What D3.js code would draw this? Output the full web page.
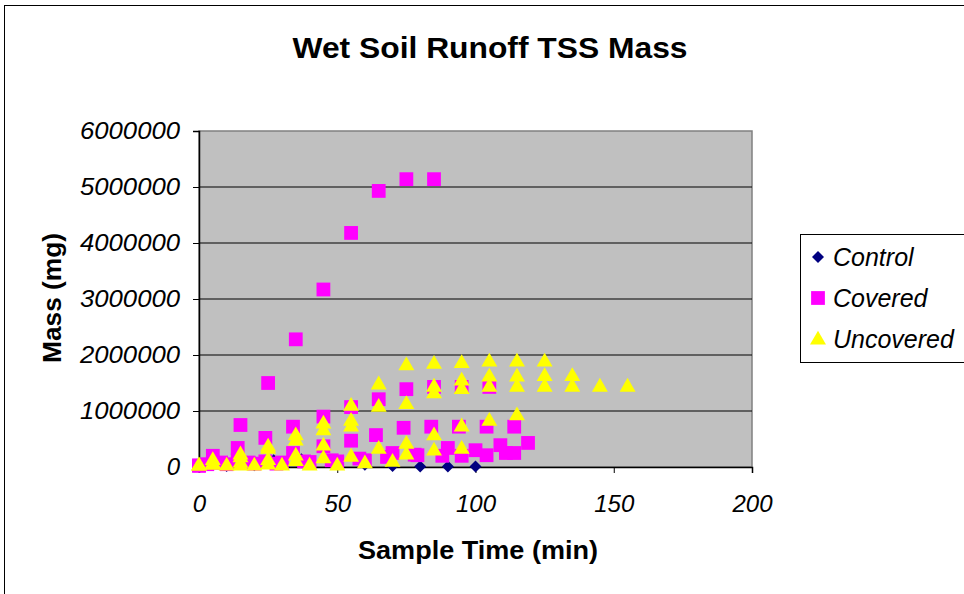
<!DOCTYPE html>
<html>
<head>
<meta charset="utf-8">
<script src="https://cdn.jsdelivr.net/npm/d3@7"></script>
<style>
  body { margin: 0; background: #fff; }
  svg { font-family: "Liberation Sans", Arial, sans-serif; }
</style>
</head>
<body>
<svg id="chart" width="964" height="594"></svg>
<script>
// x ticks / y ticks
const xTicks = [0, 50, 100, 150, 200];
const yTicks = [0, 1000000, 2000000, 3000000, 4000000, 5000000, 6000000];
const seriesNames = ["Control", "Covered", "Uncovered"];

// [time (min), mass (mg)] - several runs per treatment
const controlData = [
    [0, 0], [10, 20000], [20, 30000], [27, 120000], [37, 140000], [50, 50000],
    [60, 40000], [70, 20000], [80, 10000], [90, 10000], [100, 10000]
];
const coveredData = [
    // run 1
    [0, 20000], [5, 200000], [15, 750000], [25, 1500000], [35, 2280000], [45, 3170000],
    [55, 4180000], [65, 4930000], [75, 5140000], [85, 5140000],
    // run 2
    [5, 80000], [14, 340000], [24, 520000], [34, 720000], [45, 900000], [55, 1070000],
    [65, 1210000], [75, 1390000], [85, 1430000], [95, 1430000], [105, 1430000],
    // run 3
    [3, 50000], [14, 120000], [24, 100000], [34, 250000], [45, 370000], [55, 470000],
    [64, 570000], [74, 700000], [84, 720000], [94, 720000], [104, 720000], [114, 720000],
    // run 4
    [0, 30000], [10, 50000], [20, 60000], [30, 80000], [40, 90000], [50, 100000],
    [60, 120000], [70, 250000], [79, 210000], [90, 340000], [100, 300000], [109, 390000], [119, 430000],
    // run 5
    [8, 80000], [18, 80000], [28, 60000], [38, 100000], [48, 120000], [58, 150000],
    [68, 180000], [78, 220000], [88, 200000], [95, 200000], [104, 210000], [111, 250000], [114, 250000]
];
const uncoveredData = [
    // run 1
    [0, 0], [5, 100000], [15, 200000], [25, 340000], [35, 540000], [45, 750000], [55, 1070000],
    [65, 1450000], [75, 1790000], [85, 1820000], [95, 1830000], [105, 1860000], [115, 1860000], [125, 1860000],
    // run 2
    [5, 40000], [15, 150000], [25, 300000], [35, 450000], [45, 630000], [55, 800000], [65, 1050000],
    [75, 1100000], [85, 1410000], [95, 1520000], [105, 1590000], [115, 1590000], [125, 1600000], [135, 1600000],
    // run 3
    [5, 20000], [15, 50000], [25, 100000], [35, 180000], [45, 360000], [55, 700000],
    [85, 1290000], [95, 1370000], [105, 1410000], [115, 1410000], [125, 1410000], [135, 1410000],
    [145, 1410000], [155, 1410000],
    // run 4
    [0, 0], [10, 0], [20, 0], [30, 0], [40, 0], [50, 0], [60, 40000], [70, 70000],
    [75, 390000], [85, 540000], [95, 700000], [105, 800000], [115, 900000],
    // run 5
    [5, 20000], [15, 0], [25, 20000], [35, 80000], [45, 130000], [55, 160000],
    [65, 300000], [75, 200000], [85, 270000], [95, 300000]
];

const svg = d3.select("#chart");
const plot = {left: 199, top: 131, right: 752, bottom: 467};

// outer chart border
svg.append("rect")
    .attr("x", 4.5).attr("y", 5.5)
    .attr("width", 1000).attr("height", 1000)
    .attr("fill", "#fff")
    .attr("stroke", "#000")
    .attr("stroke-width", 1);

const x = d3.scaleLinear().domain([0, 200]).range([plot.left, plot.right]);
const y = d3.scaleLinear().domain([0, 6000000]).range([plot.bottom, plot.top]);

// plot area
svg.append("rect")
    .attr("x", plot.left).attr("y", plot.top)
    .attr("width", plot.right - plot.left).attr("height", plot.bottom - plot.top)
    .attr("fill", "#c0c0c0")
    .attr("stroke", "#808080")
    .attr("stroke-width", 1.5);

// gridlines
svg.append("g")
    .selectAll("line")
    .data(yTicks.filter(d => d > 0 && d < 6000000))
    .join("line")
    .attr("x1", plot.left).attr("x2", plot.right)
    .attr("y1", d => y(d)).attr("y2", d => y(d))
    .attr("stroke", "#000")
    .attr("stroke-width", 1);

// axes
const yAxis = svg.append("g")
    .attr("transform", `translate(${plot.left},0)`)
    .call(d3.axisLeft(y).tickValues(yTicks).tickSize(6).tickPadding(13).tickFormat(d3.format("d")));
const xAxis = svg.append("g")
    .attr("transform", `translate(0,${plot.bottom})`)
    .call(d3.axisBottom(x).tickValues(xTicks).tickSize(6).tickPadding(22).tickFormat(d3.format("d")));

[yAxis, xAxis].forEach(a => {
    a.select(".domain").attr("stroke", "#000").attr("stroke-width", 1.5);
    a.selectAll(".tick line").attr("stroke", "#000");
    a.selectAll("text")
        .attr("fill", "#000")
        .style("font-size", "24px")
        .style("font-style", "italic")
        .style("font-family", "'Liberation Sans', Arial, sans-serif");
});
yAxis.selectAll("text").attr("textLength", d => d === 0 ? null : 100).attr("lengthAdjust", "spacingAndGlyphs");

// markers
const symSquare = d3.symbol().type(d3.symbolSquare).size(190);
const symTri = d3.symbol().type(d3.symbolTriangle).size(110);
const symDiamond = d3.symbol().type(d3.symbolSquare).size(72);

const marks = svg.append("g");
marks.selectAll(".ctl")
    .data(controlData)
    .join("path")
    .attr("class", "ctl")
    .attr("d", symDiamond)
    .attr("transform", d => `translate(${x(d[0])},${y(d[1])}) rotate(45)`)
    .attr("fill", "#000080");
marks.selectAll(".cov")
    .data(coveredData)
    .join("path")
    .attr("class", "cov")
    .attr("d", symSquare)
    .attr("transform", d => `translate(${x(d[0])},${y(d[1])})`)
    .attr("fill", "#ff00ff");
marks.selectAll(".unc")
    .data(uncoveredData)
    .join("path")
    .attr("class", "unc")
    .attr("d", symTri)
    .attr("transform", d => `translate(${x(d[0])},${y(d[1]) - 1})`)
    .attr("fill", "#ffff00");

// titles
svg.append("text")
    .attr("x", 490).attr("y", 58)
    .attr("text-anchor", "middle")
    .attr("textLength", 395).attr("lengthAdjust", "spacingAndGlyphs")
    .style("font-size", "30px").style("font-weight", "bold")
    .text("Wet Soil Runoff TSS Mass");
svg.append("text")
    .attr("transform", "translate(61,298) rotate(-90)")
    .attr("text-anchor", "middle")
    .attr("textLength", 130).attr("lengthAdjust", "spacingAndGlyphs")
    .style("font-size", "25px").style("font-weight", "bold")
    .text("Mass (mg)");
svg.append("text")
    .attr("x", 478).attr("y", 559)
    .attr("text-anchor", "middle")
    .attr("textLength", 240).attr("lengthAdjust", "spacingAndGlyphs")
    .style("font-size", "26px").style("font-weight", "bold")
    .text("Sample Time (min)");

// legend
const legend = svg.append("g");
legend.append("rect")
    .attr("x", 800.5).attr("y", 234.5)
    .attr("width", 200).attr("height", 128)
    .attr("fill", "#fff").attr("stroke", "#000");
const legSyms = [symDiamond, symSquare, symTri];
const legColors = ["#000080", "#ff00ff", "#ffff00"];
seriesNames.forEach((name, i) => {
    const cy = 257 + i * 41;
    legend.append("path")
        .attr("d", legSyms[i])
        .attr("transform", `translate(818,${cy + (i === 2 ? 1 : 0)})` + (i === 0 ? " rotate(45)" : ""))
        .attr("fill", legColors[i]);
    legend.append("text")
        .attr("x", 833).attr("y", cy + 9)
        .style("font-size", "25px").style("font-style", "italic")
        .text(name);
});
</script>
</body>
</html>
